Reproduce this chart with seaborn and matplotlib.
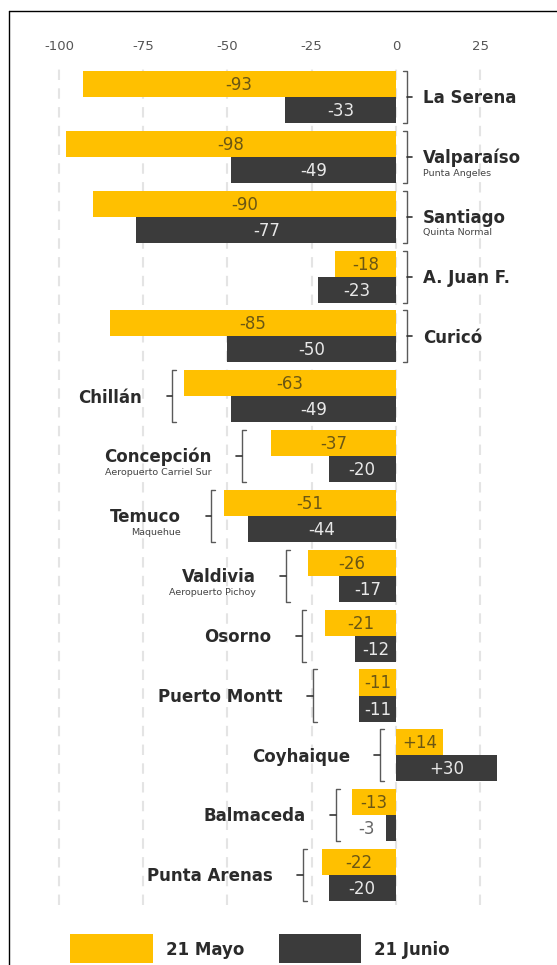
import matplotlib
matplotlib.use("Agg")
import matplotlib.pyplot as plt
from matplotlib.lines import Line2D
from matplotlib.patches import Rectangle
import seaborn as sns
import pandas as pd

# --- data -------------------------------------------------------------
stations = ["La Serena", "Valparaíso", "Santiago", "A. Juan F.", "Curicó",
            "Chillán", "Concepción", "Temuco", "Valdivia", "Osorno",
            "Puerto Montt", "Coyhaique", "Balmaceda", "Punta Arenas"]
subtitles = ["", "Punta Angeles", "Quinta Normal", "", "",
             "", "Aeropuerto Carriel Sur", "Maquehue", "Aeropuerto Pichoy", "",
             "", "", "", ""]
mayo = [-93, -98, -90, -18, -85, -63, -37, -51, -26, -21, -11, 14, -13, -22]
junio = [-33, -49, -77, -23, -50, -49, -20, -44, -17, -12, -11, 30, -3, -20]
series = ["21 Mayo", "21 Junio"]
ticks = [-100, -75, -50, -25, 0, 25]

# --- layout -----------------------------------------------------------
W, H = 557, 965
YELLOW = "#FFC000"
DARK = "#3b3b3b"
n_right = 5  # first stations are labelled to the right of the zero line
bracket_x = [3.2] * n_right + [-66.4, -45.8, -54.8, -32.7, -28.0, -24.7,
                               -4.8, -17.9, -27.7]

def fx(px):
    return px / W

def fy(py):
    return 1 - py / H

df = pd.DataFrame({
    "station": stations * 2,
    "serie": [series[0]] * len(stations) + [series[1]] * len(stations),
    "value": mayo + junio,
})

sns.set_theme(style="white")
plt.rcParams["font.family"] = ["DejaVu Sans"]

fig = plt.figure(figsize=(W / 100, H / 100), dpi=100)
fig.patch.set_facecolor("white")
ax = fig.add_axes([0, fy(905), 1, fy(65) - fy(905)])

sns.barplot(data=df, y="station", x="value", hue="serie", orient="h",
            palette=[YELLOW, DARK], width=0.87, dodge=True, saturation=1,
            linewidth=0, legend=False, ax=ax)

ax.set_xlim(-117.5, 47.8)
ax.set_ylim(13.5, -0.535)
ax.set_xlabel("")
ax.set_ylabel("")
ax.set_yticks([])
ax.set_xticks(ticks)
ax.set_xticklabels([str(t) for t in ticks])
ax.xaxis.tick_top()
ax.tick_params(axis="x", length=0, pad=9, labelsize=9.5, labelcolor="#555555")
for s in ax.spines.values():
    s.set_visible(False)
ax.set_axisbelow(True)
ax.grid(axis="x", linestyle=(0, (5, 4)), color="#e4e4e4", linewidth=1.5)
ax.set_facecolor("white")

# --- value labels inside the bars --------------------------------------
for cont, vals, col in zip(ax.containers, [mayo, junio], ["#6b5714", "#e8e8e8"]):
    for bar, v in zip(cont, vals):
        yc = bar.get_y() + bar.get_height() / 2
        txt = f"{v:+d}" if v > 0 else f"{v:d}"
        if abs(v) < 5:
            ax.annotate(txt, (v, yc), xytext=(-8, -4.3), textcoords="offset points",
                        ha="right", va="baseline", fontsize=12, color="#666666")
        else:
            ax.annotate(txt, (v / 2, yc), xytext=(0, -4.3), textcoords="offset points",
                        ha="center", va="baseline", fontsize=12, color=col)

# --- station labels with brackets --------------------------------------
half = 0.435
for i, (name, sub, bx) in enumerate(zip(stations, subtitles, bracket_x)):
    right = i < n_right
    hook = -1.2 if right else 1.2
    tick = 1.6 if right else -1.6
    ax.add_line(Line2D([bx + hook, bx, bx, bx + hook],
                       [i - half, i - half, i + half, i + half],
                       color="#5a5a5a", lw=1.0, solid_joinstyle="round"))
    ax.add_line(Line2D([bx, bx + tick], [i, i], color="#333333", lw=1.2))
    if right:
        tx, ha = bx + 4.75, "left"
    else:
        tx, ha = bx - 8.9, "right"
    ax.annotate(name, (tx, i), xytext=(0, -4.5), textcoords="offset points",
                ha=ha, va="baseline", fontsize=12, fontweight="bold",
                color="#2b2b2b", annotation_clip=False)
    if sub:
        ax.annotate(sub, (tx, i), xytext=(0, -13.5), textcoords="offset points",
                    ha=ha, va="baseline", fontsize=6.8, color="#444444",
                    annotation_clip=False)

# --- legend -----------------------------------------------------------
for (x0, x1, tx0), col, lab in zip([(70, 153, 166), (279, 361, 374)],
                                   [YELLOW, DARK], series):
    fig.patches.append(Rectangle((fx(x0), fy(963)), fx(x1) - fx(x0),
                                 fy(934) - fy(963), transform=fig.transFigure,
                                 facecolor=col, edgecolor="none"))
    fig.text(fx(tx0), fy(950), lab, ha="left", va="center", fontsize=12,
             fontweight="bold", color="#2b2b2b")

# --- frame lines ------------------------------------------------------
fig.add_artist(Line2D([fx(9), fx(9)], [fy(11), 0], transform=fig.transFigure,
                      color="black", lw=1.0))
fig.add_artist(Line2D([fx(9), 1], [fy(11), fy(11)], transform=fig.transFigure,
                      color="black", lw=1.0))

fig.savefig("out.png", dpi=100, facecolor="white")
